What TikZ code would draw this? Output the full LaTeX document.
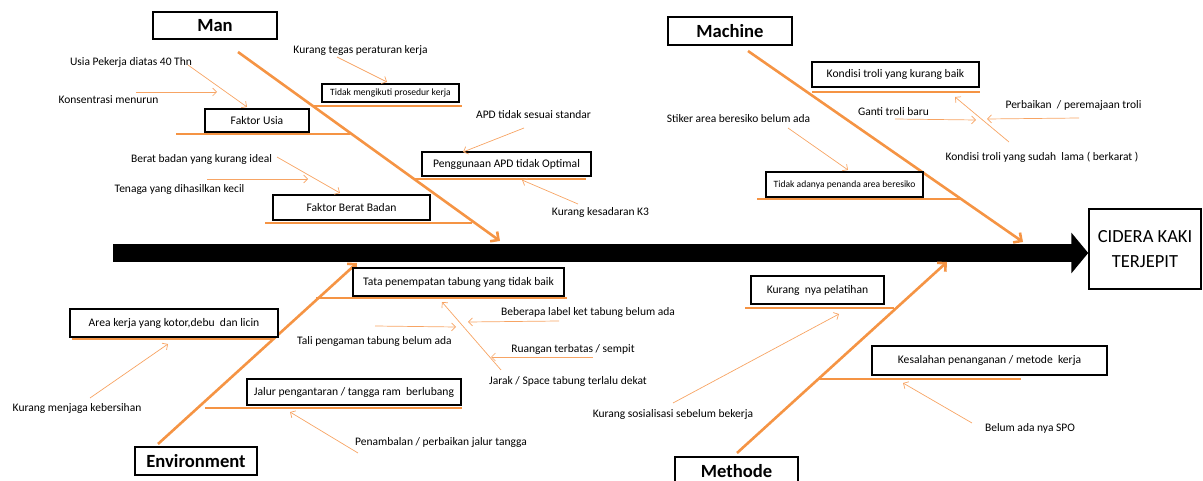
\documentclass[tikz,border=0pt]{standalone}
\usepackage{fontspec}
\setmainfont{Carlito}
\usetikzlibrary{arrows.meta}
\definecolor{bonecol}{RGB}{245,148,68}
\definecolor{twigcol}{RGB}{247,164,100}
\tikzset{
  spine/.style={line width=18pt, -{Triangle[length=17pt,width=40pt]}},
  bone/.style={draw=bonecol, line width=2.6pt, -{Straight Barb[length=6pt,width=12pt]}},
  rib/.style={draw=bonecol, line width=2.4pt},
  twig/.style={draw=twigcol, line width=0.7pt, -{Straight Barb[length=4pt,width=8pt]}},
  catbox/.style={draw, line width=1.8pt, fill=white, inner sep=0pt, font=\fontsize{18.6}{22}\selectfont\bfseries},
  causebox/.style={draw, line width=1.5pt, fill=white, inner sep=0pt, font=\fontsize{11.6}{14}\selectfont},
  tinybox/.style={causebox, font=\fontsize{9.6}{11}\selectfont},
  headbox/.style={draw, line width=1.5pt, fill=white, inner sep=0pt, align=center, font=\fontsize{18.5}{25}\selectfont},
  note/.style={inner sep=0pt, font=\fontsize{11.5}{13}\selectfont},
}

\begin{document}
\begin{tikzpicture}[x=1pt, y=-1pt]
		\useasboundingbox (0,0) rectangle (1203,481);
		
		%%%%% SPINE %%%%%
		\node[headbox, minimum width=112pt, minimum height=80pt] (head) at (1145,249) {CIDERA KAKI\\TERJEPIT};
		\coordinate (tail) at (113,253);
		\draw[spine] (tail) -- (tail -| head.west);
		
		%%%%% MAN %%%%%
		\node[catbox, minimum width=124pt, minimum height=27pt] (man) at (215,25.5) {Man};
		\coordinate (manTail) at (238,52);
		\coordinate (manTip) at (500,241);
		\draw[bone] (manTail) -- (manTip);
		
		\draw[rib] (312,106) -- (462,106);
		\draw[rib] (176,134) -- (350,134);
		\draw[rib] (265,223) -- (472,223);
		\draw[rib] (414,179) -- (586,179);
		\node[tinybox, minimum width=137pt, minimum height=18pt] (prosedur) at (390.5,93) {Tidak mengikuti prosedur kerja};
		\node[causebox, minimum width=104pt, minimum height=23pt] (usia) at (257,120.5) {Faktor Usia};
		\node[causebox, minimum width=157pt, minimum height=25pt] (berat) at (351.5,207.5) {Faktor Berat Badan};
		\node[causebox, minimum width=169pt, minimum height=24pt] (apd) at (506.5,164) {Penggunaan APD tidak Optimal};
		
		\node[note] (tegas) at (360.5,50) {Kurang tegas peraturan kerja};
		\node[note] (umur) at (131,62) {Usia Pekerja diatas 40 Thn};
		\node[note] (konsen) at (108.5,100) {Konsentrasi menurun};
		\node[note] (ideal) at (201.5,159) {Berat badan yang kurang ideal};
		\node[note] (tenaga) at (179.5,189) {Tenaga yang dihasilkan kecil};
		\node[note] (standar) at (533.5,115) {APD tidak sesuai standar};
		\node[note] (sadar) at (600.5,212) {Kurang kesadaran K3};
		
		\coordinate (tegasA) at (337,57);   \coordinate (tegasB) at (387,82);
		\coordinate (umurA) at (188,65);    \coordinate (umurB) at (247,107);
		\coordinate (konsenA) at (136,92);  \coordinate (konsenB) at (217,92);
		\coordinate (idealA) at (277,157);  \coordinate (idealB) at (340,193);
		\coordinate (tenagaA) at (207,179); \coordinate (tenagaB) at (308,179);
		\coordinate (standarA) at (524,128); \coordinate (standarB) at (463,152);
		\coordinate (sadarA) at (578,204);  \coordinate (sadarB) at (522,180);
		\foreach \t in {tegas,umur,konsen,ideal,tenaga,standar,sadar}
			\draw[twig] (\t A) -- (\t B);
		
		%%%%% MACHINE %%%%%
		\node[catbox, minimum width=124pt, minimum height=28pt] (machine) at (730,31) {Machine};
		\coordinate (machineTail) at (748,51);
		\coordinate (machineTip) at (1023,242);
		\draw[bone] (machineTail) -- (machineTip);
		
		\draw[rib] (812,92) -- (980,92);
		\draw[rib] (757,199) -- (962,199);
		\node[causebox, minimum width=167pt, minimum height=25pt] (troli) at (895.5,74.5) {Kondisi troli yang kurang baik};
		\node[tinybox, minimum width=157pt, minimum height=25pt] (penanda) at (844.5,184.5) {Tidak adanya penanda area beresiko};
		
		\node[note] (stiker) at (738.5,119) {Stiker area beresiko belum ada};
		\node[note] (ganti) at (893.5,112) {Ganti troli baru};
		\node[note] (perbaikan) at (1073.5,105) {Perbaikan\ \ / peremajaan troli};
		\node[note] (lama) at (1042,157) {Kondisi troli yang sudah\ \ lama ( berkarat )};
		
		\coordinate (stikerA) at (788,128);    \coordinate (stikerB) at (848,170);
		\coordinate (gantiA) at (895,119);     \coordinate (gantiB) at (976,120);
		\coordinate (perbaikanA) at (1079,118); \coordinate (perbaikanB) at (987,119);
		\coordinate (lamaA) at (1009,142);     \coordinate (lamaB) at (955,97);
		\foreach \t in {stiker,ganti,perbaikan,lama}
			\draw[twig] (\t A) -- (\t B);
		
		%%%%% ENVIRONMENT %%%%%
		\node[catbox, minimum width=122pt, minimum height=28pt] (environment) at (196,461) {Environment};
		\coordinate (envTail) at (158,444);
		\coordinate (envTip) at (357,263);
		\draw[bone] (envTail) -- (envTip);
		
		\draw[rib] (72,339) -- (274,339);
		\draw[rib] (205,408) -- (462,408);
		\draw[rib] (316,298) -- (567,298);
		\node[causebox, minimum width=208pt, minimum height=28pt] (area) at (174,323) {Area kerja yang kotor,debu\ \ dan licin};
		\node[causebox, minimum width=214pt, minimum height=26pt] (jalur) at (354,392) {Jalur pengantaran / tangga ram\ \ berlubang};
		\node[causebox, minimum width=211pt, minimum height=28pt] (tata) at (458.5,282) {Tata penempatan tabung yang tidak baik};
		
		\node[note] (bersih) at (77,408) {Kurang menjaga kebersihan};
		\node[note] (tambal) at (441,442) {Penambalan / perbaikan jalur tangga};
		\node[note] (label) at (588,312) {Beberapa label ket tabung belum ada};
		\node[note] (tali) at (374.5,341) {Tali pengaman tabung belum ada};
		\node[note] (ruang) at (573,349) {Ruangan terbatas / sempit};
		\node[note] (jarak) at (568,381) {Jarak / Space tabung terlalu dekat};
		
		\coordinate (bersihA) at (90,398);  \coordinate (bersihB) at (168,344);
		\coordinate (tambalA) at (358,453); \coordinate (tambalB) at (290,412);
		\coordinate (labelA) at (559,321);  \coordinate (labelB) at (468,322);
		\coordinate (taliA) at (375,326);   \coordinate (taliB) at (456,327);
		\coordinate (ruangA) at (593,357);  \coordinate (ruangB) at (491,357);
		\coordinate (jarakA) at (501,370);  \coordinate (jarakB) at (442,302);
		\foreach \t in {bersih,tambal,label,tali,ruang,jarak}
			\draw[twig] (\t A) -- (\t B);
		
		%%%%% METHODE %%%%%
		\node[catbox, minimum width=123pt, minimum height=28pt] (methode) at (736.5,471) {Methode};
		\coordinate (methodeTail) at (737,453);
		\coordinate (methodeTip) at (947,262);
		\draw[bone] (methodeTail) -- (methodeTip);
		
		\draw[rib] (745,308) -- (894,308);
		\draw[rib] (818,379) -- (1021,379);
		\node[causebox, minimum width=133pt, minimum height=28pt] (pelatihan) at (817.5,290) {Kurang\ \ nya pelatihan};
		\node[causebox, minimum width=235pt, minimum height=29pt] (kesalahan) at (989.5,360.5) {Kesalahan penanganan / metode\ \ kerja};
		
		\node[note] (sosial) at (673,414) {Kurang sosialisasi sebelum bekerja};
		\node[note] (spo) at (1030,428) {Belum ada nya SPO};
		
		\coordinate (sosialA) at (673,403); \coordinate (sosialB) at (839,314);
		\coordinate (spoA) at (972,423);    \coordinate (spoB) at (903,383);
		\foreach \t in {sosial,spo}
			\draw[twig] (\t A) -- (\t B);
		
	\end{tikzpicture}
\end{document}
